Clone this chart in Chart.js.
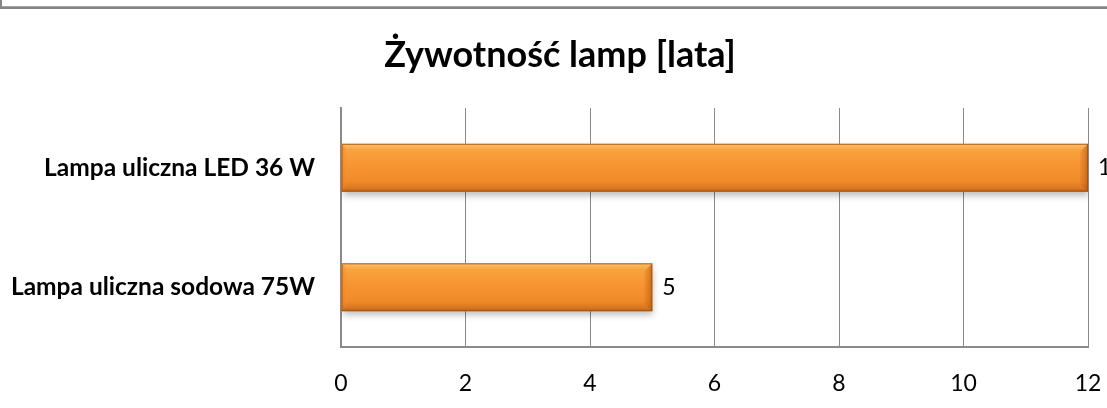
<!DOCTYPE html>
<html lang="pl">
<head>
<meta charset="utf-8">
<title>Żywotność lamp</title>
<script src="https://cdn.jsdelivr.net/npm/chart.js@4.4.1/dist/chart.umd.min.js"></script>
<style>
  html, body { margin: 0; padding: 0; background: #fff; }
  #wrap { width: 1107px; height: 408px; position: relative; }
</style>
</head>
<body>
<div id="wrap"><canvas id="lampChart" width="1107" height="408"></canvas></div>
<script>
  // lamp types and their service life in years
  const lampLabels = ['Lampa uliczna LED 36 W', 'Lampa uliczna sodowa 75W'];
  const lifeYears = [12, 5];
  const xTicks = [0, 2, 4, 6, 8, 10, 12];
  const chartTitle = 'Żywotność lamp [lata]';

  const FONT = 'Lato, "Open Sans", sans-serif';
  const GRID = '#8a8a8a';

  // frame strip across the top + the centred title
  const framePlugin = {
    id: 'frame',
    beforeDraw(chart) {
      const c = chart.ctx;
      c.save();
      c.fillStyle = '#fff';
      c.fillRect(0, 0, chart.width, chart.height);
      c.fillStyle = '#a6a6a6';
      c.fillRect(0, 6, chart.width, 1);
      c.fillStyle = '#858585';
      c.fillRect(0, 7, chart.width, 2);
      c.fillRect(0, 0, 2, 9);
      c.restore();
    },
    afterDraw(chart) {
      const c = chart.ctx;
      c.save();
      c.font = 'bold 36px ' + FONT;
      c.fillStyle = '#000';
      c.textAlign = 'center';
      c.textBaseline = 'alphabetic';
      c.fillText(chartTitle, 560, 67);
      c.restore();
    }
  };

  // soft drop shadow under the bars
  const shadowPlugin = {
    id: 'barShadow',
    beforeDatasetsDraw(chart) {
      const c = chart.ctx;
      c.save();
      c.shadowColor = 'rgba(0,0,0,0.28)';
      c.shadowBlur = 7;
      c.shadowOffsetX = 1;
      c.shadowOffsetY = 4;
    },
    afterDatasetsDraw(chart) {
      chart.ctx.restore();
    }
  };

  // orange gradient with bevelled ends, plus value labels
  const bevelPlugin = {
    id: 'bevel',
    afterDatasetsDraw(chart) {
      const c = chart.ctx;
      const meta = chart.getDatasetMeta(0);
      c.save();
      meta.data.forEach((bar, i) => {
        const { x, y, base, height } = bar.getProps(['x', 'y', 'base', 'height'], true);
        const top = y - height / 2, bot = y + height / 2;
        const left = base, right = x;

        const g = c.createLinearGradient(0, top, 0, bot);
        g.addColorStop(0, '#fbc06a');
        g.addColorStop(0.12, '#f9a441');
        g.addColorStop(0.45, '#f79431');
        g.addColorStop(0.8, '#ef8a2a');
        g.addColorStop(0.93, '#d9761f');
        g.addColorStop(1, '#b9621a');
        c.fillStyle = g;
        c.fillRect(left, top, right - left, height);

        const bv = 8;
        // left bevel: lighter upper triangle
        c.beginPath();
        c.moveTo(left, top);
        c.lineTo(left + bv, top + bv);
        c.lineTo(left + bv, bot - bv);
        c.lineTo(left, bot);
        c.closePath();
        const gl = c.createLinearGradient(left, 0, left + bv, 0);
        gl.addColorStop(0, 'rgba(230,120,30,0.55)');
        gl.addColorStop(1, 'rgba(250,160,70,0)');
        c.fillStyle = gl;
        c.fill();

        // right bevel: darker strip
        c.beginPath();
        c.moveTo(right, top);
        c.lineTo(right - bv, top + bv);
        c.lineTo(right - bv, bot - bv);
        c.lineTo(right, bot);
        c.closePath();
        const gr = c.createLinearGradient(right - bv, 0, right, 0);
        gr.addColorStop(0, 'rgba(200,100,20,0.15)');
        gr.addColorStop(1, 'rgba(170,85,15,0.65)');
        c.fillStyle = gr;
        c.fill();

        c.strokeStyle = 'rgba(160,80,15,0.8)';
        c.lineWidth = 1;
        c.strokeRect(left + 0.5, top + 0.5, right - left - 1, height - 1);

        // value label
        c.font = '23px ' + FONT;
        c.fillStyle = '#000';
        c.textAlign = 'left';
        c.textBaseline = 'middle';
        c.fillText(String(lifeYears[i]), right + 10, y);
      });
      c.restore();
    }
  };

  new Chart(document.getElementById('lampChart'), {
    type: 'bar',
    data: {
      labels: lampLabels,
      datasets: [{
        data: lifeYears,
        backgroundColor: '#f79431',
        borderWidth: 0,
        barPercentage: 0.4,
        categoryPercentage: 1
      }]
    },
    options: {
      indexAxis: 'y',
      responsive: false,
      animation: false,
      events: [],
      layout: { padding: { left: 0, right: 19, top: 108, bottom: 0 } },
      plugins: {
        legend: { display: false },
        title: { display: false },
        tooltip: { enabled: false }
      },
      scales: {
        x: {
          min: 0,
          max: 12,
          afterBuildTicks: scale => { scale.ticks = xTicks.map(v => ({ value: v })); },
          afterFit: scale => {
            scale.height = 61;
            scale.paddingLeft = 0;
            scale.paddingRight = 0;
          },
          grid: { color: GRID, lineWidth: 1, drawTicks: false, tickLength: 0 },
          border: { display: true, color: GRID, width: 2 },
          ticks: {
            padding: 23,
            color: '#000',
            font: { family: FONT, size: 23 }
          }
        },
        y: {
          afterFit: scale => {
            scale.width = 341;
            scale.paddingTop = 0;
            scale.paddingBottom = 0;
          },
          grid: { display: false, drawTicks: false, tickLength: 0 },
          border: { display: true, color: GRID, width: 2 },
          ticks: {
            padding: 26,
            color: '#000',
            font: { family: FONT, size: 24.5, weight: 'bold' }
          }
        }
      }
    },
    plugins: [framePlugin, shadowPlugin, bevelPlugin]
  });
</script>
</body>
</html>
